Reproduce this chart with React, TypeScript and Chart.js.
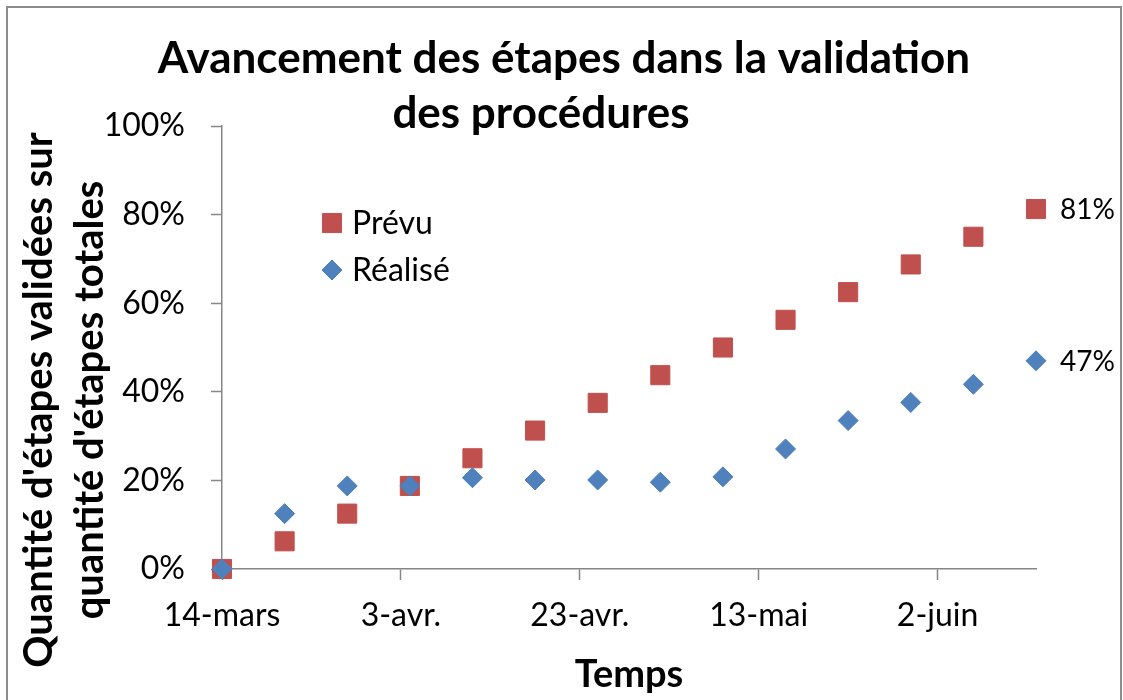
import React, { useEffect, useRef } from "react";
import { Chart, registerables } from "chart.js";

Chart.register(...registerables);

// ---- Data ----
const titleLines = ["Avancement des étapes dans la validation", "des procédures"];
const yTitleLines = ["Quantité d'étapes validées sur", "quantité d'étapes totales"];
const xTitle = "Temps";
const seriesNames = ["Prévu", "Réalisé"];
// days elapsed since 14-mars (weekly points)
const pointDays = [0, 7, 14, 21, 28, 35, 42, 49, 56, 63, 70, 77, 84, 91];
const prevuValues = [0, 6.25, 12.5, 18.75, 25, 31.25, 37.5, 43.75, 50, 56.25, 62.5, 68.75, 75, 81.25];
const realiseValues = [0, 12.5, 18.75, 18.75, 20.6, 20.1, 20.1, 19.6, 20.8, 27.1, 33.5, 37.6, 41.7, 47];
const xTickDays = [0, 20, 40, 60, 80];
const xTickLabels = ["14-mars", "3-avr.", "23-avr.", "13-mai", "2-juin"];
const xRange = [0, 91];
const yRange = [0, 100];
const yStep = 20;

// ---- Styles ----
const FONT = "Lato, 'Open Sans', sans-serif";
const AXIS = "#868686";
const RED = "#C0504D";
const BLUE = "#4F81BD";
const W = 1123;
const H = 700;

function drawMarker(ctx: CanvasRenderingContext2D, style: string, x: number, y: number, r: number, color: string) {
  ctx.save();
  ctx.fillStyle = color;
  ctx.strokeStyle = color;
  ctx.lineWidth = 1;
  ctx.beginPath();
  if (style === "rect") {
    const s = r * Math.SQRT1_2;
    ctx.rect(x - s, y - s, 2 * s, 2 * s);
  } else {
    ctx.moveTo(x - r, y);
    ctx.lineTo(x, y - r);
    ctx.lineTo(x + r, y);
    ctx.lineTo(x, y + r);
    ctx.closePath();
  }
  ctx.fill();
  ctx.stroke();
  ctx.restore();
}

const decorPlugin = {
  id: "decor",
  beforeDraw(chart: any) {
    const { ctx, width, height } = chart;
    ctx.save();
    ctx.fillStyle = "#ffffff";
    ctx.fillRect(0, 0, width, height);
    ctx.restore();
  },
  afterDraw(chart: any) {
    const ctx: CanvasRenderingContext2D = chart.ctx;
    const area = chart.chartArea;
    ctx.save();
    // outer frame
    ctx.strokeStyle = "#8c8c8c";
    ctx.lineWidth = 2;
    ctx.strokeRect(7, 7, 1114, 760);

    // title
    ctx.fillStyle = "#000";
    ctx.textAlign = "center";
    ctx.textBaseline = "alphabetic";
    ctx.font = `bold 44px ${FONT}`;
    ctx.fillText(titleLines[0], 564, 73);
    ctx.fillText(titleLines[1], 541, 128);

    // y axis title (two rotated lines)
    ctx.font = `bold 40px ${FONT}`;
    const baselines = [52, 103];
    yTitleLines.forEach((line, i) => {
      ctx.save();
      ctx.translate(baselines[i], 400);
      ctx.rotate(-Math.PI / 2);
      ctx.fillText(line, 0, 0);
      ctx.restore();
    });

    // x axis title
    ctx.font = `bold 38px ${FONT}`;
    ctx.fillText(xTitle, (area.left + area.right) / 2, 687);

    // legend (inside plot area)
    const legendX = area.left + 110;
    const legendY = [area.top + 97, area.top + 144];
    ctx.font = `32px ${FONT}`;
    ctx.textAlign = "left";
    chart.data.datasets.forEach((ds: any, i: number) => {
      drawMarker(ctx, ds.pointStyle, legendX, legendY[i], ds.pointRadius, ds.backgroundColor);
      ctx.fillStyle = "#000";
      ctx.fillText(ds.label, legendX + 20, legendY[i] + 11);
    });

    // labels on last points
    ctx.font = `28px ${FONT}`;
    chart.data.datasets.forEach((ds: any, i: number) => {
      const meta = chart.getDatasetMeta(i);
      const pt = meta.data[meta.data.length - 1];
      const v = ds.data[ds.data.length - 1].y;
      ctx.fillStyle = "#000";
      ctx.fillText(`${Math.round(v)}%`, pt.x + 24, pt.y + 10);
    });
    ctx.restore();
  },
};

export default function App() {
  const canvasRef = useRef<HTMLCanvasElement | null>(null);

  useEffect(() => {
    if (!canvasRef.current) return;
    const chart = new Chart(canvasRef.current, {
      type: "scatter",
      data: {
        datasets: [
          {
            label: seriesNames[0],
            data: pointDays.map((d, i) => ({ x: d, y: prevuValues[i] })),
            pointStyle: "rect",
            pointRadius: 13.5,
            pointHoverRadius: 13.5,
            backgroundColor: RED,
            borderColor: RED,
            borderWidth: 1,
            clip: false,
            order: 1,
          },
          {
            label: seriesNames[1],
            data: pointDays.map((d, i) => ({ x: d, y: realiseValues[i] })),
            pointStyle: "rectRot",
            pointRadius: 10,
            pointHoverRadius: 10,
            backgroundColor: BLUE,
            borderColor: BLUE,
            borderWidth: 1,
            clip: false,
            order: 0,
          },
        ] as any,
      },
      options: {
        animation: false,
        responsive: false,
        maintainAspectRatio: false,
        events: [],
        layout: { padding: { left: 0, top: 126, right: 87, bottom: 0 } },
        plugins: {
          legend: { display: false },
          title: { display: false },
          tooltip: { enabled: false },
        },
        scales: {
          x: {
            type: "linear",
            min: xRange[0],
            max: xRange[1],
            afterFit: (scale: any) => {
              scale.height = H - 569;
            },
            afterBuildTicks: (scale: any) => {
              scale.ticks = xTickDays.map((v) => ({ value: v }));
            },
            ticks: {
              includeBounds: false,
              autoSkip: false,
              maxRotation: 0,
              padding: 16,
              color: "#000",
              font: { family: FONT, size: 32 },
              callback: (v: any) => {
                const idx = xTickDays.indexOf(Number(v));
                return idx >= 0 ? xTickLabels[idx] : "";
              },
            },
            grid: {
              drawOnChartArea: false,
              drawTicks: true,
              tickLength: 11,
              tickColor: AXIS,
              tickWidth: 1.5,
            },
            border: { display: true, color: AXIS, width: 1.5 },
          },
          y: {
            type: "linear",
            min: yRange[0],
            max: yRange[1],
            afterFit: (scale: any) => {
              scale.width = 222;
            },
            ticks: {
              stepSize: yStep,
              padding: 26,
              color: "#000",
              font: { family: FONT, size: 32 },
              callback: (v: any) => `${v}%`,
            },
            grid: {
              drawOnChartArea: false,
              drawTicks: true,
              tickLength: 11,
              tickColor: AXIS,
              tickWidth: 1.5,
            },
            border: { display: true, color: AXIS, width: 1.5 },
          },
        },
      } as any,
      plugins: [decorPlugin],
    });
    return () => chart.destroy();
  }, []);

  return (
    <div style={{ position: "fixed", left: 0, top: 0, width: W, height: H, background: "#fff" }}>
      <canvas ref={canvasRef} width={W} height={H} style={{ width: W, height: H, display: "block" }} />
    </div>
  );
}
